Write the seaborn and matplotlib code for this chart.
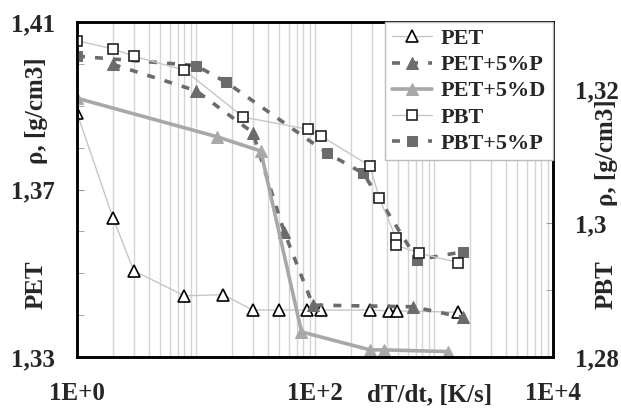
import numpy as np
import pandas as pd
import seaborn as sns
import matplotlib.pyplot as plt
from matplotlib.ticker import FixedLocator, LogLocator, FuncFormatter, NullFormatter

# cooling rate dT/dt [K/s] and density [g/cm3]
pet_x = [1, 2.0, 3.0, 8.0, 17, 30, 50, 86, 112, 290, 420, 486, 1600]
pet_y = [1.3883, 1.3633, 1.3506, 1.3446, 1.3449, 1.3412, 1.3412, 1.3412, 1.3412, 1.3412, 1.3410, 1.3410, 1.3407]

pet_p_x = [2.0, 10, 30, 55, 96, 660, 1740]
pet_p_y = [1.3999, 1.3936, 1.3836, 1.3599, 1.3424, 1.3420, 1.3395]

pet_d_x = [1, 15, 35, 77, 290, 380, 1300]
pet_d_y = [1.3918, 1.3826, 1.3792, 1.3360, 1.3317, 1.3317, 1.3313]

pbt_x = [1, 2, 3, 8, 25, 87, 112, 290, 347, 479, 479, 748, 1600]
pbt_y = [1.3272, 1.3260, 1.3249, 1.3228, 1.3158, 1.3140, 1.3130, 1.3085, 1.3037, 1.2978, 1.2967, 1.2955, 1.2941]

pbt_p_x = [1, 10, 18, 125, 255, 724, 1740]
pbt_p_y = [1.3249, 1.3235, 1.3210, 1.3105, 1.3074, 1.2945, 1.2957]

x_tick_labels = {1: '1E+0', 100: '1E+2', 10000: '1E+4'}

sns.set_style("white")
plt.rcParams['font.family'] = ['Liberation Serif', 'DejaVu Serif']
plt.rcParams['font.weight'] = 'bold'

light = '#c6c6c6'
mid = '#a8a8a8'
dark = '#6b6b6b'
tri = 8.5
sq = 7.5

fig = plt.figure(figsize=(6.21, 4.09), dpi=100)
ax = fig.add_axes([77/621, 52/409, 476/621, 335/409])
ax.set_xscale('log')
ax2 = ax.twinx()

# PET series on the left axis
sns.lineplot(x=pet_x, y=pet_y, ax=ax, color=light, lw=1, marker='^', markersize=tri,
             markerfacecolor='white', markeredgecolor='black', markeredgewidth=1.2,
             estimator=None, sort=False, label='PET')
sns.lineplot(x=pet_p_x, y=pet_p_y, ax=ax, color=dark, lw=2.6, linestyle=(0, (2.2, 2.8)),
             marker='^', markersize=tri, markerfacecolor=dark, markeredgecolor=dark,
             estimator=None, sort=False, label='PET+5%P')
sns.lineplot(x=pet_d_x, y=pet_d_y, ax=ax, color=mid, lw=2.6, marker='^', markersize=tri,
             markerfacecolor=mid, markeredgecolor=mid,
             estimator=None, sort=False, label='PET+5%D')

# PBT series on the right axis
sns.lineplot(x=pbt_p_x, y=pbt_p_y, ax=ax2, color=dark, lw=2.6, linestyle=(0, (2.2, 2.8)),
             marker='s', markersize=sq, markerfacecolor=dark, markeredgecolor=dark,
             estimator=None, sort=False, label='PBT+5%P')
sns.lineplot(x=pbt_x, y=pbt_y, ax=ax2, color=light, lw=1, marker='s', markersize=sq,
             markerfacecolor='white', markeredgecolor='#222222', markeredgewidth=1.2,
             estimator=None, sort=False, label='PBT')

ax.set_xlim(1, 1e4)
ax.set_ylim(1.33, 1.41)
ax2.set_ylim(1.28, 1.33)

# x axis: log grid, labels only at 1, 100, 10000
ax.xaxis.set_major_locator(FixedLocator([1, 10, 100, 1000, 10000]))
ax.xaxis.set_major_formatter(FuncFormatter(lambda v, p: x_tick_labels.get(int(round(v)), '')))
ax.xaxis.set_minor_locator(LogLocator(base=10, subs=range(2, 10)))
ax.xaxis.set_minor_formatter(NullFormatter())
ax.tick_params(axis='x', which='both', length=0, labelsize=18, pad=18)
ax.grid(True, axis='x', which='both', color='#d4d4d4', lw=1)
ax.grid(False, axis='y')
ax2.grid(False)

def excel_fmt(v, p):
    return f"{v:.2f}".rstrip('0').replace('.', ',')

ax.yaxis.set_major_locator(FixedLocator([1.33, 1.37, 1.41]))
ax.yaxis.set_minor_locator(FixedLocator([1.34, 1.35, 1.36, 1.38, 1.39, 1.40]))
ax.yaxis.set_major_formatter(FuncFormatter(excel_fmt))
ax.tick_params(axis='y', which='both', direction='in', length=5, color='#999999',
               labelsize=18, pad=16)
ax2.yaxis.set_major_locator(FixedLocator([1.28, 1.30, 1.32]))
ax2.yaxis.set_minor_locator(FixedLocator([1.29, 1.31, 1.33]))
ax2.yaxis.set_major_formatter(FuncFormatter(excel_fmt))
ax2.tick_params(axis='y', which='both', direction='in', length=5, color='#999999',
                labelsize=18, pad=16)
ax.set_ylabel('')
ax2.set_ylabel('')

for a in (ax, ax2):
    for s in a.spines.values():
        s.set_color('black')
        s.set_linewidth(1.8)

# legend with both axes
h1, l1 = ax.get_legend_handles_labels()
h2, l2 = ax2.get_legend_handles_labels()
if ax.get_legend():
    ax.get_legend().remove()
handles = h1 + h2[::-1]
labels = l1 + l2[::-1]
leg = ax2.legend(handles, labels, loc='upper right', borderaxespad=0, fancybox=False,
                 framealpha=1, edgecolor='#bbbbbb', prop={'weight': 'bold', 'size': 16},
                 handlelength=1.8, labelspacing=0.25, borderpad=0.3, handletextpad=0.4)
leg.get_frame().set_linewidth(1)

txt = dict(fontsize=18, weight='bold', ha='center', va='center')
fig.text(430/621, 1 - 395/409, 'dT/dt, [K/s]', **txt)
fig.text(36/621, 1 - 111/409, 'ρ, [g/cm3]', rotation=90, **txt)
fig.text(36/621, 1 - 285/409, 'PET', rotation=90, **txt)
fig.text(606/621, 1 - 153/409, 'ρ, [g/cm3]', rotation=90, **txt)
fig.text(606/621, 1 - 285/409, 'PBT', rotation=90, **txt)

fig.savefig('out.png', dpi=100)
